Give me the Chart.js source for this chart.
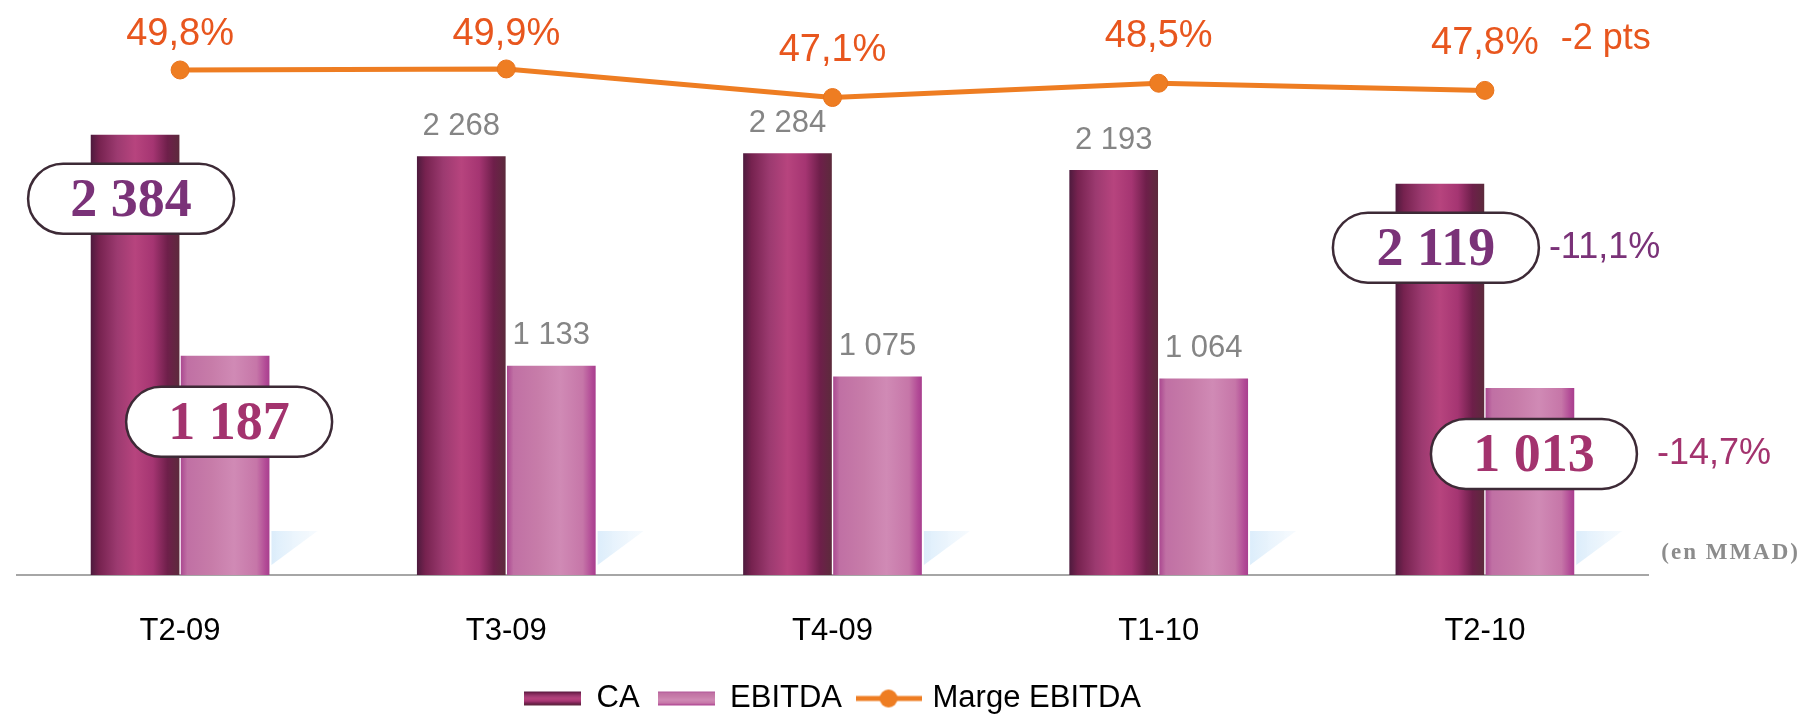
<!DOCTYPE html>
<html>
<head>
<meta charset="utf-8">
<script src="https://cdn.jsdelivr.net/npm/chart.js@4"></script>
<style>
  html, body { margin: 0; padding: 0; background: #fff; }
  #wrap { width: 1802px; height: 715px; }
</style>
</head>
<body>
<div id="wrap"><canvas id="chartEbitda"></canvas></div>
<script>
const trimestres = ["T2-09", "T3-09", "T4-09", "T1-10", "T2-10"];
const chiffreAffaires = [2384, 2268, 2284, 2193, 2119];
const ebitda = [1187, 1133, 1075, 1064, 1013];
const margeEbitda = [49.8, 49.9, 47.1, 48.5, 47.8];
// trimestres dont les valeurs sont encadrees
const trimestresEncadres = [0, 4];
const variationCA = "-11,1%";
const variationEbitda = "-14,7%";
const variationMarge = "-2 pts";
const unite = "(en MMAD)";

const SANS = "'Liberation Sans', Arial, sans-serif";
const SERIF = "'Liberation Serif', 'Times New Roman', serif";
const catPct = 0.552;

const stopsCA = [[0, "#4a1a3c"], [0.1, "#76224f"], [0.3, "#9c3a70"], [0.5, "#b7447e"], [0.7, "#a53572"], [0.86, "#6e1f4a"], [1, "#5b2b3b"]];
const stopsEbitda = [[0, "#a8448e"], [0.08, "#c070a4"], [0.35, "#c77ca9"], [0.6, "#d08ab5"], [0.85, "#c676a8"], [0.95, "#b24a96"], [1, "#a63c8c"]];

const fmt = (n) => String(n).replace(/\B(?=(\d{3})+(?!\d))/g, " ");
const pct = (v) => v.toFixed(1).replace(".", ",") + "%";

function barGradient(stops, side) {
  return (ctx) => {
    const sx = ctx.chart.scales.x;
    if (!sx || ctx.dataIndex === undefined) return stops[3][1];
    const center = sx.getPixelForValue(ctx.dataIndex);
    const w = (sx.width / trimestres.length) * catPct / 2;
    const x0 = side < 0 ? center - w : center;
    const g = ctx.chart.ctx.createLinearGradient(x0, 0, x0 + w, 0);
    stops.forEach(([o, c]) => g.addColorStop(o, c));
    return g;
  };
}

function legendImage(kind) {
  const c = document.createElement("canvas");
  if (kind === "line") {
    c.width = 66; c.height = 22;
    const g = c.getContext("2d");
    g.strokeStyle = "#EE7D22"; g.lineWidth = 5;
    g.beginPath(); g.moveTo(0, 11); g.lineTo(66, 11); g.stroke();
    g.fillStyle = "#EE7D22";
    g.beginPath(); g.arc(33, 11, 9, 0, Math.PI * 2); g.fill();
  } else {
    c.width = 57; c.height = 16;
    const g = c.getContext("2d");
    const gr = g.createLinearGradient(0, 1, 0, 15);
    (kind === "ca" ? stopsCA : stopsEbitda).forEach(([o, col]) => gr.addColorStop(o, col));
    g.fillStyle = gr;
    g.fillRect(0, 1, 57, 14);
  }
  return c;
}

function pill(ctx, cx, cy, w, h) {
  const r = h / 2;
  ctx.beginPath();
  ctx.moveTo(cx - w / 2 + r, cy - r);
  ctx.lineTo(cx + w / 2 - r, cy - r);
  ctx.arc(cx + w / 2 - r, cy, r, -Math.PI / 2, Math.PI / 2);
  ctx.lineTo(cx - w / 2 + r, cy + r);
  ctx.arc(cx - w / 2 + r, cy, r, Math.PI / 2, Math.PI * 1.5);
  ctx.closePath();
  ctx.fillStyle = "#ffffff";
  ctx.fill();
  ctx.lineWidth = 2.5;
  ctx.strokeStyle = "#3d2a36";
  ctx.stroke();
}

const annotations = {
  id: "annotations",
  beforeDatasetsDraw(chart) {
    const ctx = chart.ctx;
    ctx.save();
    chart.getDatasetMeta(1).data.forEach((bar) => {
      const right = bar.x + bar.width / 2;
      const base = bar.base;
      const g = ctx.createLinearGradient(right, 0, right + 50, 0);
      g.addColorStop(0, "rgba(214,234,250,0.9)");
      g.addColorStop(1, "rgba(230,242,252,0.3)");
      ctx.fillStyle = g;
      ctx.beginPath();
      ctx.moveTo(right + 2, base - 44);
      ctx.lineTo(right + 48, base - 44);
      ctx.lineTo(right + 2, base - 10);
      ctx.closePath();
      ctx.fill();
    });
    ctx.restore();
  },
  afterDatasetsDraw(chart) {
    const ctx = chart.ctx;
    const metaCA = chart.getDatasetMeta(0);
    const metaEb = chart.getDatasetMeta(1);
    const metaMarge = chart.getDatasetMeta(2);
    const top = chart.chartArea.top;
    ctx.save();
    ctx.textBaseline = "middle";

    // marge EBITDA (etiquettes au-dessus des points, bloquees en haut)
    ctx.font = "38px " + SANS;
    ctx.fillStyle = "#E8561E";
    ctx.textAlign = "center";
    const labelY = (pt) => Math.max(pt.y - 47, top + 14);
    metaMarge.data.forEach((pt, i) => ctx.fillText(pct(margeEbitda[i]), pt.x, labelY(pt)));
    const lastPt = metaMarge.data[margeEbitda.length - 1];
    const lastW = ctx.measureText(pct(margeEbitda[margeEbitda.length - 1])).width;
    ctx.textAlign = "left";
    ctx.font = "36px " + SANS;
    ctx.fillText(variationMarge, lastPt.x + lastW / 2 + 22, labelY(lastPt) - 4);

    // valeurs grises
    ctx.font = "31px " + SANS;
    ctx.fillStyle = "#858585";
    ctx.textAlign = "center";
    [[metaCA, chiffreAffaires], [metaEb, ebitda]].forEach(([meta, vals]) => {
      meta.data.forEach((bar, i) => {
        if (trimestresEncadres.includes(i)) return;
        ctx.fillText(fmt(vals[i]), bar.x, bar.y - 30);
      });
    });

    // valeurs encadrees
    const encadres = [
      [metaCA, chiffreAffaires, "#7A3278", 64, -4, variationCA, 10],
      [metaEb, ebitda, "#A3336E", 66, 4, variationEbitda, 20]
    ];
    encadres.forEach(([meta, vals, color, dy, dx, variation, gap]) => {
      trimestresEncadres.forEach((i) => {
        const bar = meta.data[i];
        const cx = bar.x + dx;
        const cy = bar.y + dy;
        pill(ctx, cx, cy, 206, 70);
        ctx.font = "bold 54px " + SERIF;
        ctx.fillStyle = color;
        ctx.textAlign = "center";
        ctx.fillText(fmt(vals[i]), cx, cy + 3);
        if (i === trimestres.length - 1) {
          ctx.font = "36px " + SANS;
          ctx.textAlign = "left";
          ctx.fillText(variation, cx + 103 + gap, cy);
        }
      });
    });

    // unite
    ctx.font = "bold 23px " + SERIF;
    ctx.fillStyle = "#8c8c8c";
    ctx.textAlign = "right";
    if ("letterSpacing" in ctx) ctx.letterSpacing = "2px";
    ctx.fillText(unite, 1800, 553);
    ctx.restore();
  }
};

const dataChart = {
  labels: trimestres,
  datasets: [
    {
      type: "bar",
      label: "CA",
      data: chiffreAffaires,
      yAxisID: "y",
      order: 2,
      backgroundColor: barGradient(stopsCA, -1),
      categoryPercentage: catPct,
      barPercentage: 0.985
    },
    {
      type: "bar",
      label: "EBITDA",
      data: ebitda,
      yAxisID: "y",
      order: 2,
      backgroundColor: barGradient(stopsEbitda, 1),
      categoryPercentage: catPct,
      barPercentage: 0.985
    },
    {
      type: "line",
      label: "Marge EBITDA",
      data: margeEbitda,
      yAxisID: "y1",
      order: 1,
      borderColor: "#EE7D22",
      backgroundColor: "#EE7D22",
      borderWidth: 5,
      pointRadius: 9,
      pointBackgroundColor: "#EE7D22",
      pointBorderColor: "#E9731C",
      pointBorderWidth: 1,
      tension: 0
    }
  ]
};

const legendImages = [legendImage("ca"), legendImage("eb"), legendImage("line")];

new Chart(document.getElementById("chartEbitda"), {
  type: "bar",
  data: dataChart,
  options: {
    responsive: true,
    maintainAspectRatio: false,
    animation: false,
    events: [],
    layout: { padding: { left: 17, right: 154, top: 21, bottom: 0 } },
    scales: {
      x: {
        grid: { display: false, drawTicks: false },
        border: { display: true, color: "#a6a6a6", width: 2 },
        ticks: { color: "#000", padding: 38, font: { size: 31, family: SANS } },
        afterFit: (s) => { s.height = 90; }
      },
      y: { display: false, min: 0, max: 3000 },
      y1: { display: false, position: "right", min: 0.3, max: 54.6 }
    },
    plugins: {
      tooltip: { enabled: false },
      legend: {
        position: "bottom",
        maxHeight: 50,
        labels: {
          usePointStyle: true,
          pointStyleWidth: 57,
          padding: 18,
          color: "#000",
          font: { size: 31, family: SANS },
          generateLabels: (chart) => chart.data.datasets.map((ds, i) => ({
            text: ds.label,
            pointStyle: legendImages[i],
            fillStyle: "#fff",
            strokeStyle: "#fff",
            lineWidth: 0,
            hidden: false,
            datasetIndex: i
          }))
        }
      }
    }
  },
  plugins: [annotations]
});
</script>
</body>
</html>
